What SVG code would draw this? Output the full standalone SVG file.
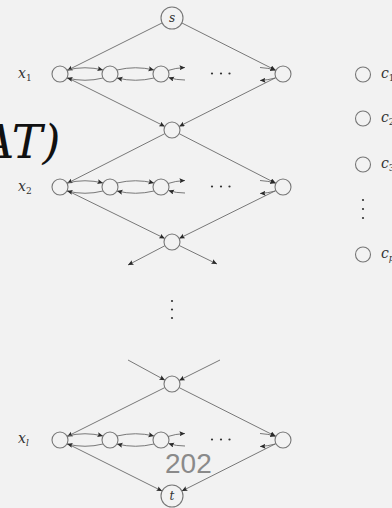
<svg xmlns="http://www.w3.org/2000/svg" width="392" height="508" viewBox="0 0 392 508">
<style>
.n{fill:none;stroke:#767676;stroke-width:1.1}
.e{fill:none;stroke:#6a6a6a;stroke-width:0.9;marker-end:url(#ah)}
.m{font-family:"DejaVu Serif",serif;font-style:italic;fill:#333}
.sub{font-style:normal;font-size:9px}
.dot{fill:#333}
</style>
<defs>
<marker id="ah" markerUnits="userSpaceOnUse" markerWidth="8" markerHeight="6" refX="5.5" refY="2.5" orient="auto">
<path d="M0,0 L5.5,2.5 L0,5 L1,2.5 Z" fill="#2a2a2a"/>
</marker>
</defs>
<rect width="392" height="508" fill="#f2f2f2"/>

<text class="m" x="-19" y="158" font-size="46" style="fill:#111">AT)</text>

<g id="connectors">
<line class="e" x1="162.16" y1="22.92" x2="67.16" y2="70.42"/>
<line class="e" x1="181.82" y1="22.95" x2="275.86" y2="70.40"/>
<line class="e" x1="67.16" y1="77.58" x2="164.84" y2="126.42"/>
<line class="e" x1="275.86" y1="77.60" x2="179.14" y2="126.40"/>
<line class="e" x1="164.87" y1="133.63" x2="67.13" y2="183.37"/>
<line class="e" x1="179.12" y1="133.65" x2="275.88" y2="183.35"/>
<line class="e" x1="67.18" y1="190.53" x2="164.82" y2="238.47"/>
<line class="e" x1="275.83" y1="190.55" x2="179.17" y2="238.45"/>
<line class="e" x1="164.91" y1="245.71" x2="128" y2="265"/>
<line class="e" x1="179.19" y1="245.51" x2="217" y2="264"/>
<line class="e" x1="128" y1="360" x2="164.98" y2="380.17"/>
<line class="e" x1="220" y1="360" x2="179.16" y2="380.42"/>
<line class="e" x1="164.84" y1="387.58" x2="67.16" y2="436.42"/>
<line class="e" x1="179.14" y1="387.60" x2="275.86" y2="436.40"/>
<line class="e" x1="67.16" y1="443.58" x2="162.16" y2="491.08"/>
<line class="e" x1="275.86" y1="443.60" x2="181.82" y2="491.05"/>

<g id="chain1">
<path class="e" d="M67,70 Q85,65.5 103,70"/>
<path class="e" d="M103,78 Q85,82.5 67,78"/>
<path class="e" d="M117,70 Q135.5,65.5 154,70"/>
<path class="e" d="M154,78 Q135.5,82.5 117,78"/>
<path class="e" d="M168,70.5 Q175,68 185,67.5"/>
<path class="e" d="M185,80 Q176,80 168.5,77.5"/>
<path class="e" d="M260,67.5 Q268,68 275.5,70"/>
<path class="e" d="M275.5,78 Q268,80 260,80.5"/>
</g>
<g id="chain2">
<path class="e" d="M67,183 Q85,178.5 103,183"/>
<path class="e" d="M103,191 Q85,195.5 67,191"/>
<path class="e" d="M117,183 Q135.5,178.5 154,183"/>
<path class="e" d="M154,191 Q135.5,195.5 117,191"/>
<path class="e" d="M168,183.5 Q175,181 185,180.5"/>
<path class="e" d="M185,193 Q176,193 168.5,190.5"/>
<path class="e" d="M260,180.5 Q268,181 275.5,183"/>
<path class="e" d="M275.5,191 Q268,193 260,193.5"/>
</g>
<g id="chainl">
<path class="e" d="M67,436 Q85,431.5 103,436"/>
<path class="e" d="M103,444 Q85,448.5 67,444"/>
<path class="e" d="M117,436 Q135.5,431.5 154,436"/>
<path class="e" d="M154,444 Q135.5,448.5 117,444"/>
<path class="e" d="M168,436.5 Q175,434 185,433.5"/>
<path class="e" d="M185,446 Q176,446 168.5,443.5"/>
<path class="e" d="M260,433.5 Q268,434 275.5,436"/>
<path class="e" d="M275.5,444 Q268,446 260,446.5"/>
</g>
</g>

<g id="s"><circle class="n" cx="172" cy="18" r="11"/><text class="m" x="172" y="22" font-size="12" text-anchor="middle">s</text></g>
<g id="t"><circle class="n" cx="172" cy="496" r="11"/><text class="m" x="172" y="500" font-size="12" text-anchor="middle">t</text></g>

<g id="row1">
<circle class="n" cx="60" cy="74" r="8"/>
<circle class="n" cx="110" cy="74" r="8"/>
<circle class="n" cx="161" cy="74" r="8"/>
<circle class="n" cx="283" cy="74" r="8"/>
<circle class="dot" cx="212" cy="73.5" r="1.1"/><circle class="dot" cx="221" cy="73.5" r="1.1"/><circle class="dot" cx="229.5" cy="73.5" r="1.1"/>
</g>
<g id="row2">
<circle class="n" cx="60" cy="187" r="8"/>
<circle class="n" cx="110" cy="187" r="8"/>
<circle class="n" cx="161" cy="187" r="8"/>
<circle class="n" cx="283" cy="187" r="8"/>
<circle class="dot" cx="212" cy="186.5" r="1.1"/><circle class="dot" cx="221" cy="186.5" r="1.1"/><circle class="dot" cx="229.5" cy="186.5" r="1.1"/>
</g>
<g id="rowl">
<circle class="n" cx="60" cy="440" r="8"/>
<circle class="n" cx="110" cy="440" r="8"/>
<circle class="n" cx="161" cy="440" r="8"/>
<circle class="n" cx="283" cy="440" r="8"/>
<circle class="dot" cx="212" cy="439.5" r="1.1"/><circle class="dot" cx="221" cy="439.5" r="1.1"/><circle class="dot" cx="229.5" cy="439.5" r="1.1"/>
</g>
<g id="m1"><circle class="n" cx="172" cy="130" r="8"/></g>
<g id="m2"><circle class="n" cx="172" cy="242" r="8"/></g>
<g id="m3"><circle class="n" cx="172" cy="384" r="8"/></g>

<g id="vdots">
<circle class="dot" cx="172" cy="301" r="1.1"/><circle class="dot" cx="172" cy="309.5" r="1.1"/><circle class="dot" cx="172" cy="318" r="1.1"/>
</g>

<g id="labels">
<text class="m" x="18" y="78" font-size="14">x<tspan class="sub" dy="3">1</tspan></text>
<text class="m" x="18" y="191" font-size="14">x<tspan class="sub" dy="3">2</tspan></text>
<text class="m" x="18" y="443" font-size="14">x<tspan class="sub" dy="3" style="font-style:italic">l</tspan></text>
</g>

<g id="clauses">
<g id="c1"><circle class="n" cx="363" cy="74.5" r="7.5"/><text class="m" x="381" y="78" font-size="14">c<tspan class="sub" dy="3">1</tspan></text></g>
<g id="c2"><circle class="n" cx="363" cy="118.5" r="7.5"/><text class="m" x="381" y="122" font-size="14">c<tspan class="sub" dy="3">2</tspan></text></g>
<g id="c3"><circle class="n" cx="363" cy="164.5" r="7.5"/><text class="m" x="381" y="168" font-size="14">c<tspan class="sub" dy="3">3</tspan></text></g>
<circle class="dot" cx="363" cy="200" r="1.1"/><circle class="dot" cx="363" cy="209" r="1.1"/><circle class="dot" cx="363" cy="218" r="1.1"/>
<g id="cp"><circle class="n" cx="363" cy="254.5" r="7.5"/><text class="m" x="381" y="258" font-size="14">c<tspan class="sub" dy="3" style="font-style:italic">p</tspan></text></g>
</g>

<text x="165" y="473" font-family="Liberation Sans,Arial,sans-serif" font-size="28" fill="#8a8a8a">202</text>
</svg>
